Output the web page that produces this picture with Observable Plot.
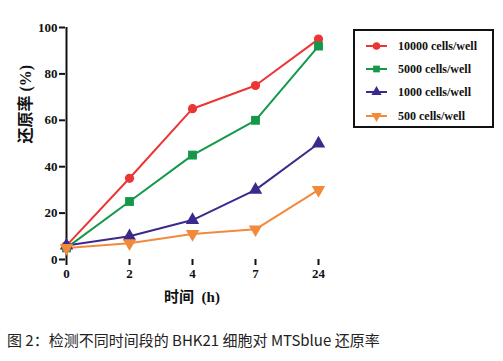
<!DOCTYPE html>
<html><head><meta charset="utf-8">
<script src="https://cdn.jsdelivr.net/npm/d3@7"></script>
<script src="https://cdn.jsdelivr.net/npm/@observablehq/plot@0.6"></script>
<style>
body{margin:0;background:#fff;width:503px;height:361px;overflow:hidden;position:relative;}
#chart{position:absolute;left:0;top:0;}
#chart svg text{font-family:"Liberation Serif","Noto Sans CJK SC",serif !important;}
#legend{position:absolute;left:353px;top:29px;width:137px;height:95px;border:2px solid #111;background:#fff;}
.item{position:absolute;left:11px;height:16px;display:flex;align-items:center;font:bold 12px "Liberation Serif",serif;color:#111;}
.item svg{margin-right:11px;}
#caption{position:absolute;left:7px;top:328px;font:15px "Noto Sans CJK SC",sans-serif;color:#222;line-height:24px;white-space:nowrap;}
</style></head><body>
<div id="chart"></div>
<div id="legend"></div>
<div id="caption">图 2：检测不同时间段的 BHK21 细胞对 MTSblue 还原率</div>
<script>
const times = ["0","2","4","7","24"];
const seriesNames = ["10000 cells/well","5000 cells/well","1000 cells/well","500 cells/well"];
const v10000 = [6,35,65,75,95];
const v5000 = [5,25,45,60,92];
const v1000 = [6,10,17,30,50];
const v500 = [5,7,11,13,30];
const yTicks = [0,20,40,60,80,100];
const colors = ["#ec3535","#14994a","#3a2a8c","#f28a3c"];

const sqrt3 = Math.sqrt(3);
const triangleDown = {draw(ctx,size){const y=-Math.sqrt(size/(sqrt3*3));ctx.moveTo(0,-y*2);ctx.lineTo(-sqrt3*y,y);ctx.lineTo(sqrt3*y,y);ctx.closePath();}};
const symbols = ["circle","square","triangle",triangleDown];
const allVals = [v10000,v5000,v1000,v500];
const data = [];
seriesNames.forEach((s,i)=>times.forEach((t,j)=>data.push({series:s,time:t,value:allVals[i][j],idx:i})));

const marks = [];
seriesNames.forEach((s,i)=>{
  const d = data.filter(r=>r.idx===i);
  marks.push(Plot.line(d,{x:"time",y:"value",stroke:colors[i],strokeWidth:2}));
});
seriesNames.forEach((s,i)=>{
  const d = data.filter(r=>r.idx===i);
  marks.push(Plot.dot(d,{x:"time",y:"value",fill:colors[i],stroke:"none",symbol:symbols[i],r:i===0?4.6:5}));
});

const chart = Plot.plot({
  width:503,height:328,
  marginLeft:65,marginRight:185,marginTop:27,marginBottom:69,
  style:{fontFamily:"'Liberation Serif',serif",fontWeight:"bold",fontSize:"13px",color:"#111",background:"transparent"},
  x:{type:"point",domain:times,padding:0},
  y:{domain:[0,100]},
  marks:[
    Plot.axisY(yTicks,{tickSize:6,tickPadding:2,strokeWidth:2,fontWeight:"bold",label:null}),
    Plot.axisX(times,{tickSize:6,tickPadding:3,strokeWidth:2,fontWeight:"bold",label:null}),
    Plot.ruleY([0],{x1:"0",x2:"24",stroke:"#111",strokeWidth:2}),
    Plot.ruleX(["0"],{y1:0,y2:100,stroke:"#111",strokeWidth:2}),
    Plot.text(["时间  (h)"],{frameAnchor:"bottom",dy:42,fontSize:15,fontWeight:"bold"}),
    Plot.text(["还原率 (%)"],{frameAnchor:"left",dx:-40,rotate:-90,fontSize:16,fontWeight:"bold"}),
    ...marks
  ]
});
document.getElementById("chart").appendChild(chart);

const legend = document.getElementById("legend");
const ys = [7,30,53,77];
seriesNames.forEach((s,i)=>{
  const it = document.createElement("div");
  it.className="item"; it.style.top=(ys[i])+"px";
  const sym = d3.symbol().type(typeof symbols[i]==="string"?{circle:d3.symbolCircle,square:d3.symbolSquare,triangle:d3.symbolTriangle}[symbols[i]]:symbols[i]).size(45)();
  it.innerHTML=`<svg width="21" height="12"><line x1="0" x2="21" y1="6" y2="6" stroke="${colors[i]}" stroke-width="2"/><path d="${sym}" transform="translate(10.5,6)" fill="${colors[i]}"/></svg><span>${s}</span>`;
  legend.appendChild(it);
});
</script>
</body></html>
